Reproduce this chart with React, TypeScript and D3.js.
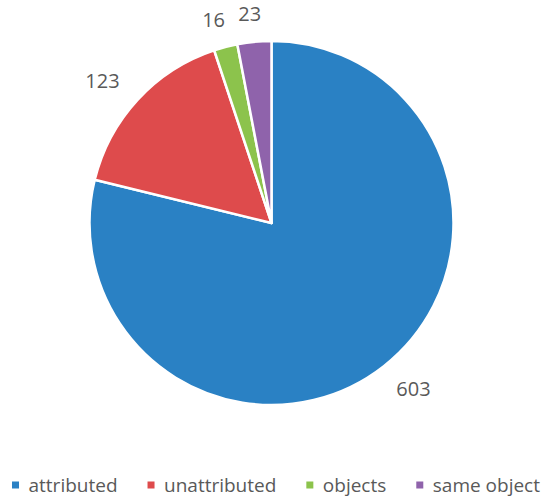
import { useEffect, useRef } from 'react';
import * as d3 from 'd3';

const categories = ['attributed', 'unattributed', 'objects', 'same object'];
const values = [603, 123, 16, 23];
const colors = ['#2a81c4', '#de4b4c', '#8cc34c', '#8f63ab'];

const W = 550;
const H = 502;

export default function App() {
  const svgRef = useRef<SVGSVGElement | null>(null);

  useEffect(() => {
    const svg = d3.select(svgRef.current);
    svg.selectAll('*').remove();

    const cx = 271.5;
    const cy = 223;
    const r = 182;
    const font = '"Segoe UI", "Open Sans", "Noto Sans", sans-serif';

    const data = categories.map((c, i) => ({ name: c, value: values[i], color: colors[i] }));

    // pie starts at 12 o'clock, clockwise, in data order
    const pie = d3
      .pie<any>()
      .sort(null)
      .value((d) => d.value);
    const arcs = pie(data);

    const arc = d3.arc<any>().innerRadius(0).outerRadius(r);

    // labels sit outside the slice, on a slightly flattened ring
    const rx = r + 48;
    const ry = r + 28;
    const labelPos = (d: any) => {
      const a = (d.startAngle + d.endAngle) / 2;
      return [Math.sin(a) * rx, -Math.cos(a) * ry];
    };

    const g = svg.append('g').attr('transform', `translate(${cx},${cy})`);

    g.selectAll('path')
      .data(arcs)
      .join('path')
      .attr('d', arc)
      .attr('fill', (d) => d.data.color)
      .attr('stroke', '#fff')
      .attr('stroke-width', 2.5)
      .attr('stroke-linejoin', 'round');

    g.selectAll('text.lbl')
      .data(arcs)
      .join('text')
      .attr('class', 'lbl')
      .attr('transform', (d) => `translate(${labelPos(d)})`)
      .attr('text-anchor', 'middle')
      .attr('dominant-baseline', 'central')
      .style('font-family', font)
      .style('font-size', '20px')
      .style('fill', '#595959')
      .text((d) => d.data.value);

    // 圖例：置中排列
    const legend = svg.append('g');
    const sq = 7;
    const gapIn = 9.5;
    const gapOut = 30;
    const ly = 485;
    let x = 0;
    data.forEach((d) => {
      const item = legend.append('g').attr('transform', `translate(${x},0)`);
      item
        .append('rect')
        .attr('x', 0)
        .attr('y', ly - sq / 2)
        .attr('width', sq)
        .attr('height', sq)
        .attr('fill', d.color);
      const t = item
        .append('text')
        .attr('x', sq + gapIn)
        .attr('y', ly)
        .attr('dominant-baseline', 'central')
        .style('font-family', font)
        .style('font-size', '19px')
        .style('fill', '#595959')
        .text(d.name);
      const w = (t.node() as SVGTextElement).getComputedTextLength();
      x += sq + gapIn + w + gapOut;
    });
    const total = x - gapOut;
    legend.attr('transform', `translate(${(W - total) / 2 + 1},0)`);
  }, []);

  return (
    <svg
      ref={svgRef}
      width={W}
      height={H}
      style={{ position: 'absolute', left: 0, top: 0, background: '#fff' }}
    />
  );
}
